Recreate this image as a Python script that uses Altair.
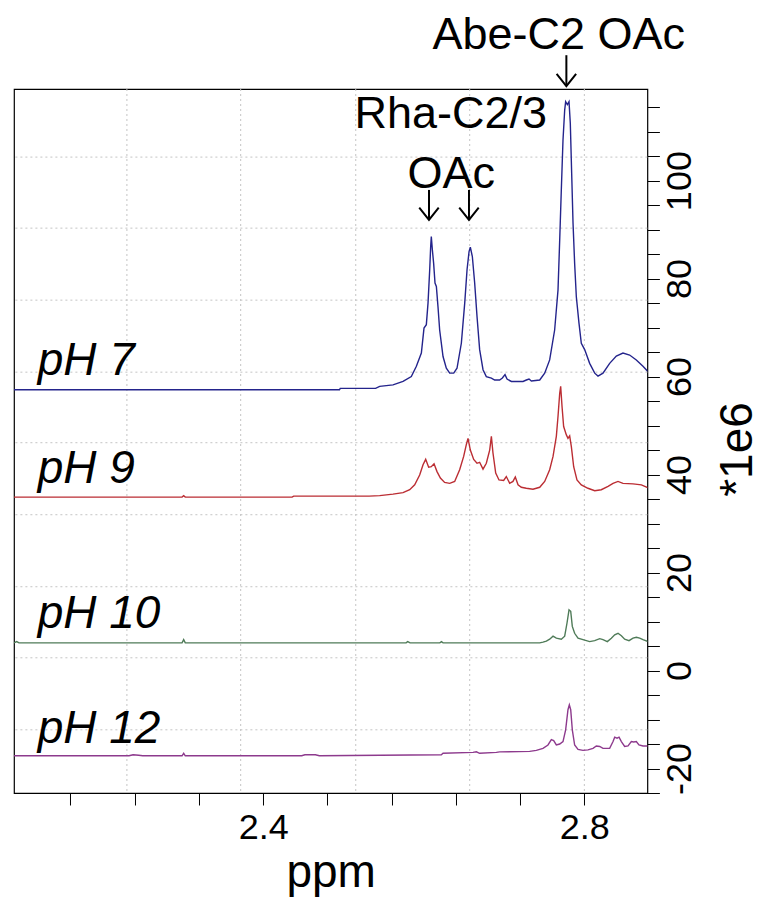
import altair as alt
import pandas as pd

# ---------------- data (ppm, intensity *1e6) ----------------
ph7 = [(2.0897, 57.3), (2.4950, 57.3), (2.4960, 57.6), (2.5400, 57.6), (2.5451, 58.0),
       (2.5617, 58.3), (2.5742, 59.0), (2.5845, 60.0), (2.5908, 62.1), (2.5970, 64.8),
       (2.6003, 69.9), (2.6032, 70.6), (2.6053, 75.0), (2.6074, 81.8), (2.6086, 86.5),
       (2.6094, 88.6), (2.6107, 85.9), (2.6123, 83.1), (2.6140, 79.1), (2.6157, 78.4),
       (2.6177, 74.3), (2.6198, 69.5), (2.6240, 64.1), (2.6281, 61.7), (2.6323, 60.7),
       (2.6373, 60.7), (2.6414, 61.7), (2.6468, 66.8), (2.6510, 75.0), (2.6539, 81.8),
       (2.6564, 85.5), (2.6580, 86.4), (2.6605, 84.5), (2.6634, 79.1), (2.6663, 72.3),
       (2.6696, 65.5), (2.6738, 61.4), (2.6779, 60.0), (2.6842, 59.7), (2.6883, 59.3),
       (2.6945, 59.3), (2.6979, 59.7), (2.7012, 60.4), (2.7037, 59.5), (2.7091, 59.0),
       (2.7236, 59.0), (2.7278, 59.3), (2.7311, 59.5), (2.7340, 59.1), (2.7444, 59.3),
       (2.7506, 60.7), (2.7568, 63.4), (2.7630, 69.5), (2.7672, 77.7), (2.7693, 87.9),
       (2.7713, 98.1), (2.7734, 108.3), (2.7755, 114.4), (2.7767, 116.1), (2.7788, 115.5),
       (2.7809, 116.1), (2.7825, 111.7), (2.7842, 101.5), (2.7859, 91.3), (2.7879, 83.1),
       (2.7900, 76.3), (2.7933, 70.9), (2.7962, 66.8), (2.8004, 65.5), (2.8066, 62.7),
       (2.8129, 60.7), (2.8170, 60.1), (2.8232, 60.7), (2.8315, 62.7), (2.8398, 64.2),
       (2.8481, 64.8), (2.8564, 64.4), (2.8647, 63.4), (2.8730, 62.1), (2.8793, 61.0)]

ph9 = [(2.0897, 35.4), (2.2990, 35.4), (2.3010, 35.7), (2.3030, 35.4), (2.4360, 35.4),
       (2.4380, 35.6), (2.5320, 35.6), (2.5451, 35.7), (2.5617, 36.0), (2.5742, 36.3),
       (2.5825, 36.9), (2.5887, 37.9), (2.5949, 39.9), (2.5991, 42.0), (2.6024, 43.1),
       (2.6061, 41.5), (2.6094, 41.6), (2.6128, 42.2), (2.6165, 40.6), (2.6207, 39.3),
       (2.6260, 38.4), (2.6323, 38.2), (2.6385, 38.6), (2.6447, 41.0), (2.6497, 43.7),
       (2.6530, 46.1), (2.6551, 47.4), (2.6580, 45.0), (2.6622, 43.1), (2.6663, 42.3),
       (2.6696, 42.5), (2.6738, 41.1), (2.6779, 42.3), (2.6821, 45.0), (2.6842, 47.8),
       (2.6862, 44.4), (2.6896, 40.3), (2.6937, 38.9), (2.6995, 38.8), (2.7028, 39.6),
       (2.7070, 38.2), (2.7111, 38.6), (2.7140, 39.5), (2.7174, 37.9), (2.7215, 37.4),
       (2.7277, 37.2), (2.7360, 37.0), (2.7444, 37.4), (2.7506, 38.6), (2.7568, 41.0),
       (2.7610, 43.7), (2.7651, 47.8), (2.7672, 51.9), (2.7693, 56.6), (2.7705, 58.0),
       (2.7722, 53.9), (2.7742, 49.8), (2.7776, 48.1), (2.7796, 47.4), (2.7817, 47.9),
       (2.7838, 45.7), (2.7867, 41.6), (2.7908, 38.9), (2.7962, 37.9), (2.8045, 37.2),
       (2.8129, 36.7), (2.8211, 36.9), (2.8295, 37.6), (2.8357, 38.2), (2.8419, 38.6),
       (2.8481, 38.2), (2.8606, 38.1), (2.8710, 37.9), (2.8805, 37.2)]

ph10 = [(2.0897, 5.65), (2.0930, 5.9), (2.0960, 5.65), (2.2990, 5.65), (2.3010, 6.3),
        (2.3030, 5.65), (2.5780, 5.65), (2.5800, 5.9), (2.5830, 5.65), (2.6200, 5.65),
        (2.6220, 5.9), (2.6240, 5.65), (2.7444, 5.65), (2.7485, 5.8), (2.7527, 6.0),
        (2.7568, 6.4), (2.7610, 7.0), (2.7651, 6.6), (2.7713, 6.4), (2.7755, 7.0),
        (2.7784, 9.7), (2.7809, 12.4), (2.7830, 12.1), (2.7850, 9.0), (2.7879, 7.6),
        (2.7921, 6.6), (2.7983, 6.3), (2.8066, 5.9), (2.8129, 6.1), (2.8191, 6.5),
        (2.8232, 6.3), (2.8286, 5.9), (2.8336, 6.6), (2.8378, 7.3), (2.8419, 7.6),
        (2.8461, 7.1), (2.8502, 6.4), (2.8556, 6.1), (2.8606, 6.6), (2.8647, 6.8),
        (2.8689, 6.6), (2.8730, 6.3), (2.8793, 5.9)]

ph12 = [(2.0897, -17.4), (2.2330, -17.4), (2.2380, -17.2), (2.2450, -17.3), (2.2500, -17.4),
        (2.2990, -17.4), (2.3010, -16.9), (2.3030, -17.4), (2.4480, -17.4), (2.4520, -17.2),
        (2.4650, -17.2), (2.4700, -17.4), (2.6219, -17.2), (2.6240, -16.9), (2.6613, -16.7),
        (2.6655, -16.6), (2.6696, -16.9), (2.6904, -16.7), (2.6945, -16.6), (2.7319, -16.5),
        (2.7402, -16.3), (2.7485, -15.9), (2.7547, -15.2), (2.7589, -14.1), (2.7618, -14.3),
        (2.7651, -15.2), (2.7693, -15.0), (2.7734, -14.5), (2.7767, -12.1), (2.7796, -8.0),
        (2.7813, -7.0), (2.7830, -8.0), (2.7850, -12.1), (2.7879, -15.2), (2.7921, -16.1),
        (2.7983, -16.3), (2.8045, -16.2), (2.8108, -15.9), (2.8149, -15.4), (2.8191, -15.5),
        (2.8232, -15.9), (2.8315, -15.9), (2.8357, -14.5), (2.8378, -13.6), (2.8407, -13.8),
        (2.8432, -13.6), (2.8461, -14.5), (2.8502, -15.5), (2.8544, -15.4), (2.8585, -14.5),
        (2.8614, -14.6), (2.8647, -14.5), (2.8680, -15.2), (2.8730, -15.4), (2.8805, -15.4)]

series_names = ["pH 7", "pH 9", "pH 10", "pH 12"]
series_colors = ["#24248c", "#bb2d33", "#4f7b58", "#8d3a8d"]

# labels for each spectrum (left side)
label_x = [2.1192, 2.1192, 2.1192, 2.1192]
label_y = [60.35, 38.25, 8.68, -14.8]

# peak annotations
ann_text = ["Abe-C2 OAc", "Rha-C2/3", "OAc"]
ann_x = [2.768, 2.6335, 2.6341]
ann_y = [126.8, 110.8, 98.5]

# arrows: x, top y, tip y
arrow_x = [2.7776, 2.6065, 2.6563]
arrow_top = [125.6, 98.1, 98.1]
arrow_tip = [119.3, 92.0, 92.0]

# grid lines (dotted)
grid_x = [2.2303, 2.3720, 2.5153, 2.6572, 2.8]
grid_y = [104.8, 90.3, 75.6, 60.9, 46.5, 31.8, 17.1, 2.6, -12.1]

x_ticks = [2.16, 2.24, 2.32, 2.40, 2.48, 2.56, 2.64, 2.72, 2.80]
y_ticks = list(range(-25, 120, 5))

X_DOMAIN = [2.0897, 2.8785]
Y_DOMAIN = [-25, 118.7]

FONT = "Liberation Sans"

# ---------------- build tables ----------------
rows = []
for name, pts in zip(series_names, [ph7, ph9, ph10, ph12]):
    for x, y in pts:
        rows.append({"series": name, "ppm": x, "val": y})
spec_df = pd.DataFrame(rows)

xs = alt.Scale(domain=X_DOMAIN, nice=False, zero=False)
ys = alt.Scale(domain=Y_DOMAIN, nice=False, zero=False)

x_axis = alt.Axis(
    values=x_ticks,
    labelExpr="(abs(datum.value-2.4)<0.001 || abs(datum.value-2.8)<0.001) ? format(datum.value, '.1f') : ''",
    title="ppm", grid=False, domain=False,
    tickSize=12, tickColor="black", tickWidth=1,
    labelFontSize=36, labelFont=FONT, labelColor="black", labelPadding=6,
    labelOverlap=False, labelFlush=False,
    titleFontSize=46, titleFont=FONT, titleFontWeight="normal", titleColor="black",
    titleY=94, titleBaseline="alphabetic",
)

y_axis = alt.Axis(
    orient="right", values=y_ticks,
    labelExpr="(abs(datum.value % 20) < 0.001) ? toString(datum.value) : ''",
    title="*1e6", grid=False, domain=False,
    tickSize=12, tickColor="black", tickWidth=1,
    labelAngle=270,
    labelFontSize=36, labelFont=FONT, labelColor="black", labelPadding=3,
    labelOverlap=False, labelFlush=False,
    titleFontSize=46, titleFont=FONT, titleFontWeight="normal", titleColor="black",
    titleAngle=270, titleAlign="center", titleBaseline="middle",
    titleX=90, titleY=360,
)

X = lambda f: alt.X(f, scale=xs, axis=x_axis)
Y = lambda f: alt.Y(f, scale=ys, axis=y_axis)

grid_style = dict(color="#c4c4c4", strokeDash=[2, 3], strokeWidth=1)
gx = alt.Chart(pd.DataFrame({"g": grid_x})).mark_rule(**grid_style).encode(x=X("g:Q"))
gy = alt.Chart(pd.DataFrame({"g": grid_y})).mark_rule(**grid_style).encode(y=Y("g:Q"))

lines = alt.Chart(spec_df).mark_line(strokeWidth=1.4, clip=True).encode(
    x=X("ppm:Q"),
    y=Y("val:Q"),
    color=alt.Color("series:N", scale=alt.Scale(domain=series_names, range=series_colors), legend=None),
    detail="series:N",
)

lab_df = pd.DataFrame({"t": series_names, "x": label_x, "y": label_y})
labels = alt.Chart(lab_df).mark_text(
    font=FONT, fontSize=46, fontStyle="italic", align="left", baseline="alphabetic", color="black"
).encode(x=X("x:Q"), y=Y("y:Q"), text="t:N")

ann_df = pd.DataFrame({"t": ann_text, "x": ann_x, "y": ann_y})
anns = alt.Chart(ann_df).mark_text(
    font=FONT, fontSize=45, align="center", baseline="alphabetic", color="black"
).encode(x=X("x:Q"), y=Y("y:Q"), text="t:N")

arr_df = pd.DataFrame({"x": arrow_x, "y1": arrow_top, "y2": arrow_tip})
shafts = alt.Chart(arr_df).mark_rule(color="black", strokeWidth=2).encode(
    x=X("x:Q"), y=Y("y1:Q"), y2="y2:Q")
heads = alt.Chart(arr_df).mark_point(
    shape="M-1,-1.25L0,0L1,-1.25", filled=False, size=380, color="black", strokeWidth=2, opacity=1
).encode(x=X("x:Q"), y=Y("y2:Q"))

chart = alt.layer(gx, gy, lines, labels, anns, shafts, heads).properties(
    width=633.4, height=704,
    autosize=alt.AutoSizeParams(type="none"),
    padding={"left": 6, "top": 81, "right": 114, "bottom": 106},
    background="white",
).configure_view(stroke="black", strokeWidth=1.2)

chart.save("out.html", embed_options={"renderer": "svg", "actions": False})
